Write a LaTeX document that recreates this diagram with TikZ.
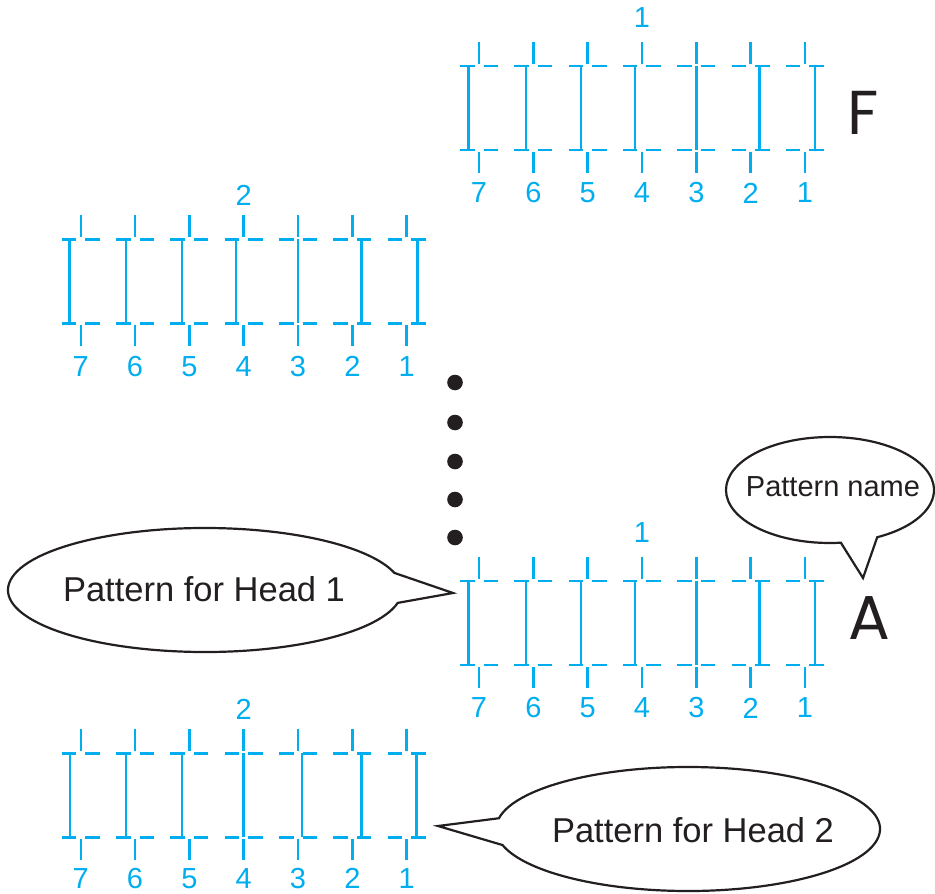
\documentclass[tikz,border=0pt]{standalone}
\usepackage{fontspec}
\setmainfont{Liberation Sans}
\newfontfamily\geofont{Poppins}
\definecolor{pcyan}{HTML}{00AEEF}
\definecolor{ink}{HTML}{231F20}
\tikzset{
  pat/.style={pcyan, line width=2.4pt},
  num/.style={text=pcyan, font=\fontsize{29}{33}\selectfont, inner sep=0pt},
  bubble/.style={draw=ink, line width=2.2pt, fill=white, line join=miter},
  bubbletext/.style={text=ink, font=\fontsize{34.5}{40}\selectfont, inner sep=0pt},
  nametext/.style={text=ink, font=\fontsize{29}{34}\selectfont, inner sep=0pt},
  bigletter/.style={text=ink, font=\geofont\fontsize{62}{70}\selectfont, inner sep=0pt},
  dotmark/.style={fill=ink}
}
% #1 x of column 7, #2 top dash y, #3 bottom dash y, #4 offsets, #5 name,
% #6 top label, #7 top label y, #8 number row y
\newcommand\headpat[8]{%
  \foreach \o [count=\i from 0] in {#4} {
    \pgfmathsetmacro\xx{#1+54.33*\i}
    \pgfmathtruncatemacro\lab{7-\i}
    \draw[pat] (\xx-19,#2) -- (\xx-4.5,#2) (\xx+4.5,#2) -- (\xx+19,#2);
    \draw[pat] (\xx-19,#3) -- (\xx-4.5,#3) (\xx+4.5,#3) -- (\xx+19,#3);
    \draw[pat] (\xx,#2-24) -- (\xx,#2-2);
    \draw[pat] (\xx,#3+2) -- (\xx,#3+23);
    \draw[pat] (\xx+\o,#2) -- (\xx+\o,#3);
    \node[num] (#5-\lab) at (\xx,#8) {\lab};
  }
  \node[num] (#5-top) at (#1+3*54.33,#7) {#6};
}
\begin{document}
\begin{tikzpicture}[x=1pt,y=-1pt]
\useasboundingbox (0,0) rectangle (935,894);

% patterns
\headpat{479}{66}{150}{-10.7,-7.6,-6.7,-6.7,0,9,10}{pf}{1}{18}{193}
\headpat{80.7}{239.3}{323.3}{-11.3,-9,-7.6,-7.6,0,9,11}{pf2}{2}{195}{366.3}
\headpat{479}{580.7}{665}{-10.7,-7.6,-6.7,-6.7,0,9,10}{pa}{1}{533}{708}
\headpat{80.7}{753.3}{837.3}{-10.7,-9,-7.6,0,4,9,10}{pa2}{2}{709}{878.5}

% pattern names
\node[bigletter] (letterF) at (863,112.5) {F};
\node[bigletter] (letterA) at (869.5,618.5) {A};

% dots
\foreach \yy in {382.5,422.5,461.5,499.5,537.5}
  \fill[dotmark] (455,\yy) circle[radius=7.8];

% bubble: Pattern for Head 1
\coordinate (h1c) at (205,590);
\coordinate (h1tip) at (453,593);
\draw[bubble] ([shift={(12:197 and 62)}]h1c) arc[start angle=12, end angle=344, x radius=197, y radius=62] -- (h1tip) -- cycle;
\node[bubbletext] (h1) at (204,589) {Pattern for Head 1};

% bubble: Pattern name
\coordinate (pnc) at (830,490);
\coordinate (pntip) at (863,578);
\draw[bubble] ([shift={(84:104 and 53)}]pnc) arc[start angle=84, end angle=423, x radius=104, y radius=53] -- (pntip) -- cycle;
\node[nametext] (pn) at (833,487) {Pattern name};

% bubble: Pattern for Head 2
\coordinate (h2c) at (688,829);
\coordinate (h2tip) at (438,826);
\draw[bubble] ([shift={(190:192 and 62)}]h2c) arc[start angle=190, end angle=525, x radius=192, y radius=62] -- (h2tip) -- cycle;
\node[bubbletext] (h2) at (693,830) {Pattern for Head 2};
\end{tikzpicture}
\end{document}
